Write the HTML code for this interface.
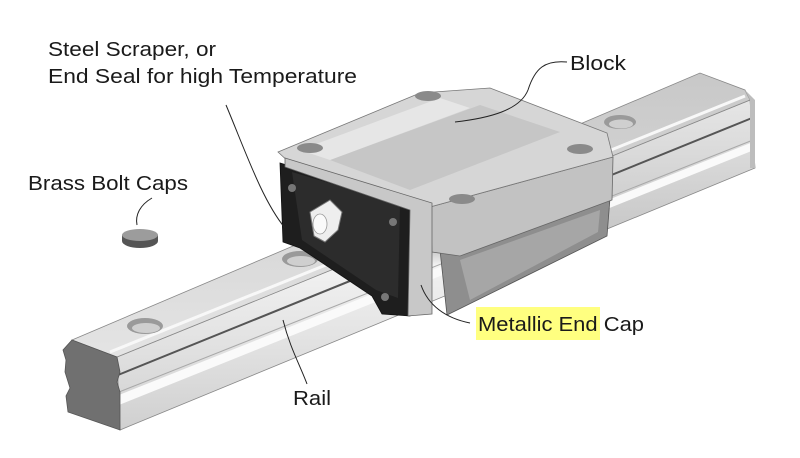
<!DOCTYPE html>
<html><head><meta charset="utf-8"><style>
html,body{margin:0;padding:0;background:#fff;}
svg{display:block;}
text{font-family:"Liberation Sans",sans-serif;font-size:20px;fill:#1a1a1a;}
</style></head><body>
<svg width="800" height="458" viewBox="0 0 800 458" xmlns="http://www.w3.org/2000/svg">
<defs>
<linearGradient id="side" x1="0" y1="0" x2="0" y2="1">
<stop offset="0" stop-color="#e6e6e6"/><stop offset="0.45" stop-color="#c4c4c4"/><stop offset="0.5" stop-color="#f2f2f2"/><stop offset="1" stop-color="#d0d0d0"/>
</linearGradient>
<linearGradient id="top" x1="0" y1="0" x2="0" y2="1">
<stop offset="0" stop-color="#c8c8c8"/><stop offset="1" stop-color="#e4e4e4"/>
</linearGradient>
</defs>
<!-- rail side face -->
<polygon points="117,357 750,100 755,168 120,430" fill="url(#side)" stroke="#888" stroke-width="0.8"/>
<line x1="118" y1="375" x2="752" y2="118" stroke="#555" stroke-width="2"/>
<line x1="119" y1="392" x2="753" y2="140" stroke="#a8a8a8" stroke-width="1"/>
<polygon points="119,395 753,142 754,150 119,405" fill="#fafafa"/>
<!-- rail top face -->
<polygon points="72,340 700,73 745,90 750,100 117,357" fill="url(#top)" stroke="#888" stroke-width="0.8"/>
<line x1="110" y1="352" x2="745" y2="96" stroke="#f8f8f8" stroke-width="3"/>
<!-- rail far end -->
<polygon points="745,90 755,100 755,168 750,168 750,100" fill="#bdbdbd"/>
<!-- rail end face -->
<path d="M72,340 L117,357 L120,372 L117,382 L120,392 L120,430 L68,412 L66,396 L70,388 L65,372 L66,360 L63,350 Z" fill="#707070" stroke="#555" stroke-width="0.8"/>
<!-- rail holes -->
<ellipse cx="145" cy="326" rx="18" ry="8" fill="#9a9a9a"/><ellipse cx="146" cy="328" rx="14" ry="5" fill="#cfcfcf"/>
<ellipse cx="300" cy="259" rx="18" ry="8" fill="#9a9a9a"/><ellipse cx="301" cy="261" rx="14" ry="5" fill="#cfcfcf"/>
<ellipse cx="620" cy="122" rx="16" ry="7" fill="#9a9a9a"/><ellipse cx="621" cy="124" rx="12" ry="4.5" fill="#cfcfcf"/>
<!-- block lower body -->
<polygon points="440,250 610,198 607,236 447,315" fill="#8e8e8e" stroke="#555" stroke-width="0.8"/>
<polygon points="460,260 600,210 598,232 470,300" fill="#a6a6a6"/>
<!-- block side flange -->
<polygon points="430,207 613,157 612,200 460,256 432,252" fill="#c2c2c2" stroke="#666" stroke-width="0.8"/>
<!-- block top -->
<polygon points="278,152 420,93 490,88 607,133 613,157 430,207 290,163" fill="#d6d6d6" stroke="#777" stroke-width="0.8"/>
<polygon points="330,160 480,105 560,132 410,190" fill="#c6c6c6"/>
<polygon points="300,150 440,98 470,108 330,160" fill="#e6e6e6"/>
<ellipse cx="428" cy="96" rx="13" ry="5" fill="#8a8a8a"/>
<ellipse cx="310" cy="148" rx="13" ry="5" fill="#8a8a8a"/>
<ellipse cx="580" cy="149" rx="13" ry="5" fill="#8a8a8a"/>
<ellipse cx="462" cy="199" rx="13" ry="5" fill="#8a8a8a"/>
<!-- end seal / black plate -->
<polygon points="280,163 412,203 410,316 382,314 372,296 300,248 283,242" fill="#1e1e1e" stroke="#111" stroke-width="0.8"/>
<polygon points="292,172 400,204 398,298 376,290 302,240" fill="#2c2c2c"/>
<circle cx="292" cy="188" r="4" fill="#777"/><circle cx="393" cy="222" r="4" fill="#777"/><circle cx="385" cy="297" r="4" fill="#777"/>
<!-- metallic end cap frame -->
<polygon points="285,158 432,203 432,314 408,316 410,210 285,167" fill="#c8c8c8" stroke="#666" stroke-width="0.8"/>
<!-- grease nipple -->
<path d="M310,212 L330,200 L342,212 L338,230 L325,242 L314,236 Z" fill="#eeeeee" stroke="#777" stroke-width="1"/>
<ellipse cx="320" cy="224" rx="7" ry="10" fill="#fafafa" stroke="#999" stroke-width="0.8"/>
<!-- brass bolt cap -->
<ellipse cx="140" cy="241" rx="18" ry="7" fill="#555"/>
<rect x="122" y="235" width="36" height="6" fill="#555"/>
<ellipse cx="140" cy="235" rx="18" ry="6" fill="#9c9c9c"/>
<!-- leader lines -->
<g fill="none" stroke="#222" stroke-width="1">
<path d="M226,105 C245,150 262,200 285,228"/>
<path d="M152,198 C140,205 135,215 137,225"/>
<path d="M567,62 C545,60 535,68 528,90 C520,110 490,118 455,122"/>
<path d="M470,323 C445,318 428,305 421,285"/>
<path d="M307,384 C300,365 290,348 283,320"/>
</g>
<!-- labels -->
<rect x="476" y="307" width="124" height="33" fill="#ffff80"/>
<text x="48" y="56" textLength="168" lengthAdjust="spacingAndGlyphs">Steel Scraper, or</text>
<text x="48" y="83" textLength="309" lengthAdjust="spacingAndGlyphs">End Seal for high Temperature</text>
<text x="570" y="70" textLength="56" lengthAdjust="spacingAndGlyphs">Block</text>
<text x="28" y="190" textLength="160" lengthAdjust="spacingAndGlyphs">Brass Bolt Caps</text>
<text x="478" y="331" textLength="166" lengthAdjust="spacingAndGlyphs">Metallic End Cap</text>
<text x="293" y="405" textLength="38" lengthAdjust="spacingAndGlyphs">Rail</text>
</svg>
</body></html>
